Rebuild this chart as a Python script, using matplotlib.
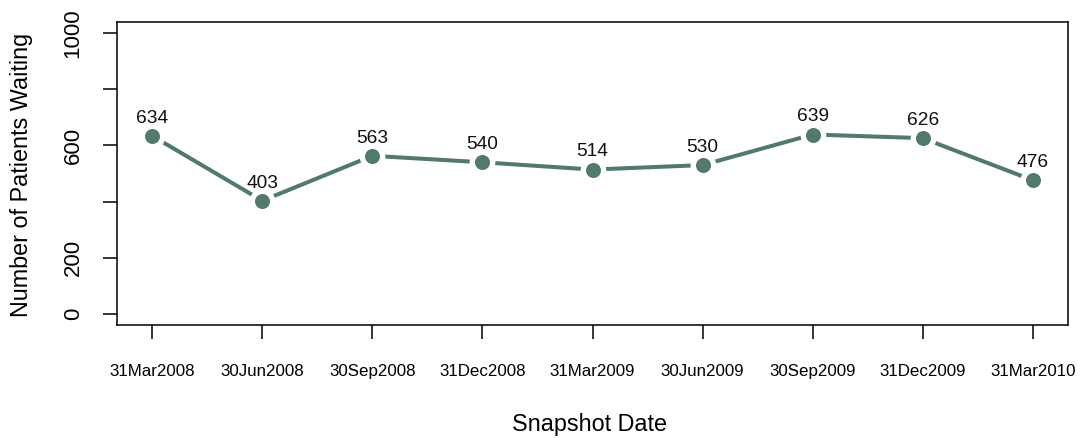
import matplotlib
matplotlib.use("Agg")
import matplotlib.pyplot as plt

dates = ["31Mar2008", "30Jun2008", "30Sep2008", "31Dec2008", "31Mar2009",
         "30Jun2009", "30Sep2009", "31Dec2009", "31Mar2010"]
waiting = [634, 403, 563, 540, 514, 530, 639, 626, 476]
yticks = [0, 200, 400, 600, 800, 1000]
ytick_labels = ["0", "200", "", "600", "", "1000"]

plt.rcParams['font.family'] = ['Liberation Sans', 'DejaVu Sans']
color = "#517A6B"

fig = plt.figure(figsize=(10.8, 4.38), dpi=100)
ax = fig.add_axes([117/1080, 1-325/438, (1068-117)/1080, (325-22)/438])

x = list(range(1, len(waiting) + 1))
ax.plot(x, waiting, color=color, lw=2.9, zorder=1, solid_capstyle='butt')
ax.plot(x, waiting, ls='none', marker='o', ms=18.5, mfc='white', mec='none', zorder=2)
ax.plot(x, waiting, ls='none', marker='o', ms=10.8, mfc=color, mec='none', zorder=3)

for xi, v in zip(x, waiting):
    ax.annotate(str(v), (xi, v), xytext=(0, 9.5), textcoords='offset points',
                ha='center', va='baseline', fontsize=13.8, color='#111111', zorder=4)

ax.set_xlim(0.68, len(waiting) + 0.32)
ax.set_ylim(-40, 1040)
ax.set_xticks(x)
ax.set_xticklabels(dates, fontsize=12.2, va='baseline')
ax.set_yticks(yticks)
ax.set_yticklabels(ytick_labels, fontsize=16, rotation=90, va='center', ha='right')

ax.tick_params(axis='both', direction='out', length=10, width=1.1, color='black')
ax.tick_params(axis='x', pad=27)
ax.tick_params(axis='y', pad=14)
for s in ax.spines.values():
    s.set_linewidth(1.1)
    s.set_color('black')

fig.text(22/1080, 1-175/438, "Number of Patients Waiting", rotation=90,
         ha='center', va='center', fontsize=16.8)
fig.text(590/1080, 1-425/438, "Snapshot Date", ha='center', va='center', fontsize=16.8)

fig.savefig("out.png", dpi=100)
